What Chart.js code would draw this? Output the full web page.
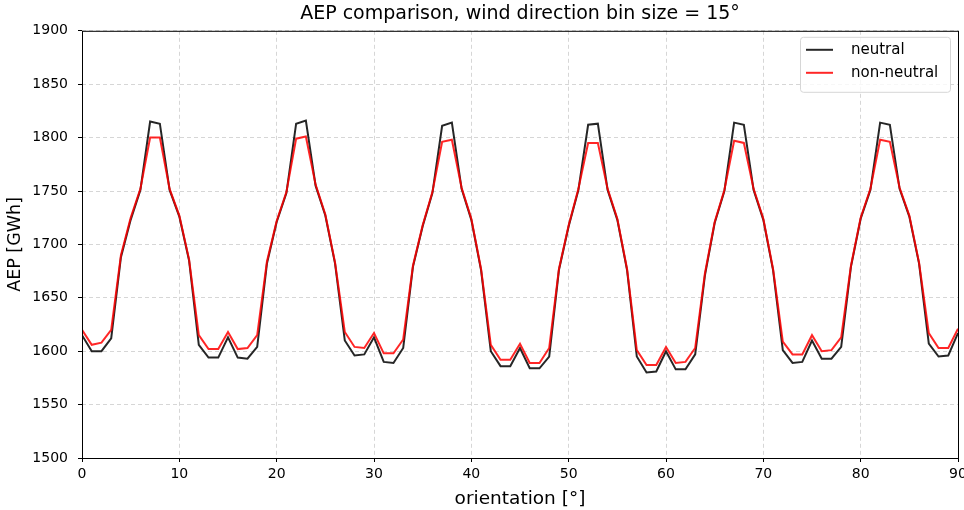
<!DOCTYPE html>
<html>
<head>
<meta charset="utf-8">
<script src="https://cdn.jsdelivr.net/npm/chart.js@4.4.1/dist/chart.umd.min.js"></script>
<style>
  html, body { margin: 0; padding: 0; background: #fff; overflow: hidden; }
  #wrap { width: 964px; height: 510px; position: relative; }
</style>
</head>
<body>
<div id="wrap"><canvas id="aepChart"></canvas></div>
<script>
// orientation of the layout [deg]
const orientation = [0, 1, 2, 3, 4, 5, 6, 7, 8, 9, 10, 11, 12, 13, 14, 15, 16, 17, 18, 19,
  20, 21, 22, 23, 24, 25, 26, 27, 28, 29, 30, 31, 32, 33, 34, 35, 36, 37, 38, 39,
  40, 41, 42, 43, 44, 45, 46, 47, 48, 49, 50, 51, 52, 53, 54, 55, 56, 57, 58, 59,
  60, 61, 62, 63, 64, 65, 66, 67, 68, 69, 70, 71, 72, 73, 74, 75, 76, 77, 78, 79,
  80, 81, 82, 83, 84, 85, 86, 87, 88, 89, 90];

// AEP [GWh], neutral atmosphere
const aepNeutral = [1615, 1600, 1600, 1612, 1688, 1723, 1751, 1815, 1813, 1751,
  1726, 1685, 1606, 1594, 1594, 1613, 1594, 1593, 1604, 1682,
  1721, 1748, 1813, 1816, 1755, 1727, 1682, 1610, 1596, 1597,
  1613, 1590, 1589, 1603, 1679, 1717, 1748, 1811, 1814, 1752,
  1723, 1676, 1600, 1586, 1586, 1603, 1584, 1584, 1595, 1676,
  1717, 1751, 1812, 1813, 1751, 1723, 1676, 1595, 1580, 1581,
  1600, 1583, 1583, 1597, 1671, 1720, 1750, 1814, 1812, 1751,
  1723, 1676, 1601, 1589, 1590, 1610, 1593, 1593, 1604, 1679,
  1724, 1751, 1814, 1812, 1752, 1726, 1682, 1607, 1595, 1596, 1617];

// AEP [GWh], non-neutral atmosphere
const aepNonNeutral = [1620, 1606, 1608, 1620, 1690, 1725, 1752, 1800, 1800, 1752,
  1727, 1686, 1615, 1602, 1602, 1618, 1602, 1603, 1615, 1684,
  1722, 1749, 1799, 1801, 1756, 1728, 1683, 1618, 1604, 1603,
  1617, 1598, 1598, 1611, 1680, 1718, 1749, 1796, 1798, 1753,
  1724, 1677, 1606, 1592, 1592, 1607, 1589, 1589, 1603, 1677,
  1718, 1752, 1795, 1795, 1752, 1724, 1677, 1601, 1587, 1587,
  1604, 1589, 1590, 1603, 1673, 1721, 1751, 1797, 1795, 1752,
  1724, 1677, 1609, 1597, 1597, 1615, 1600, 1601, 1613, 1680,
  1725, 1752, 1798, 1796, 1753, 1727, 1683, 1617, 1603, 1603, 1621];

const xTicks = [0, 10, 20, 30, 40, 50, 60, 70, 80, 90];
const yTicks = [1500, 1550, 1600, 1650, 1700, 1750, 1800, 1850, 1900];
const seriesNames = ['neutral', 'non-neutral'];

const FONT = "'DejaVu Sans', sans-serif";
const BLACK = 'rgba(0,0,0,0.85)';
const RED = 'rgba(255,0,0,0.85)';

function toPoints(ys) {
    return orientation.map((x, i) => ({ x: x, y: ys[i] }));
}

// frame round the plot area, like matplotlib axes
const frameBox = {
    id: 'frameBox',
    afterDatasetsDraw(chart) {
        const { ctx, chartArea: a } = chart;
        ctx.save();
        ctx.strokeStyle = '#000';
        ctx.lineWidth = 1;
        ctx.strokeRect(a.left + 0.5, a.top + 0.5, a.right - a.left, a.bottom - a.top);
        ctx.restore();
    }
};

// legend box in the upper right corner
const innerLegend = {
    id: 'innerLegend',
    afterDraw(chart) {
        const { ctx, chartArea: a } = chart;
        const w = 150, h = 55;
        const x = a.right - w - 8, y = a.top + 6;
        ctx.save();
        ctx.fillStyle = 'rgba(255,255,255,0.8)';
        ctx.strokeStyle = '#d6d6d6';
        ctx.lineWidth = 1;
        ctx.beginPath();
        ctx.roundRect(x + 0.5, y + 0.5, w, h, 3);
        ctx.fill();
        ctx.stroke();
        const colors = [BLACK, RED];
        ctx.font = '15px ' + FONT;
        ctx.textBaseline = 'middle';
        ctx.fillStyle = '#000';
        seriesNames.forEach((name, i) => {
            const ly = y + 13 + i * 23;
            ctx.strokeStyle = colors[i];
            ctx.lineWidth = 2;
            ctx.beginPath();
            ctx.moveTo(x + 6, ly);
            ctx.lineTo(x + 33, ly);
            ctx.stroke();
            ctx.fillText(name, x + 51, ly);
        });
        ctx.restore();
    }
};

const gridStyle = {
    color: '#d6d6d6',
    tickBorderDash: [],
    tickColor: '#000',
    tickLength: 4,
    drawTicks: true
};

new Chart(document.getElementById('aepChart'), {
    type: 'line',
    data: {
        datasets: [{
            label: seriesNames[0],
            data: toPoints(aepNeutral),
            borderColor: BLACK,
            borderWidth: 2,
            pointRadius: 0,
            tension: 0,
            order: 1
        }, {
            label: seriesNames[1],
            data: toPoints(aepNonNeutral),
            borderColor: RED,
            borderWidth: 2,
            pointRadius: 0,
            tension: 0,
            order: 0
        }]
    },
    options: {
        responsive: true,
        maintainAspectRatio: false,
        animation: false,
        layout: { padding: { left: 0, right: 6, top: 0, bottom: 0 } },
        scales: {
            x: {
                type: 'linear',
                min: 0,
                max: 90,
                afterBuildTicks: (scale) => { scale.ticks = xTicks.map(v => ({ value: v })); },
                afterFit: (scale) => {
                    scale.height = 52;
                    scale.paddingLeft = 0;
                    scale.paddingRight = 0;
                },
                ticks: {
                    font: { family: FONT, size: 14 },
                    color: '#000',
                    padding: 4,
                    callback: (v) => String(v)
                },
                grid: gridStyle,
                border: { display: false, dash: [4, 3] },
                title: {
                    display: true,
                    text: 'orientation [°]',
                    font: { family: FONT, size: 18.5 },
                    color: '#000',
                    padding: { top: 2, bottom: 0 }
                }
            },
            y: {
                min: 1500,
                max: 1900,
                afterBuildTicks: (scale) => { scale.ticks = yTicks.map(v => ({ value: v })); },
                afterFit: (scale) => {
                    scale.width = 82;
                    scale.paddingTop = 0;
                    scale.paddingBottom = 0;
                },
                ticks: {
                    font: { family: FONT, size: 14 },
                    color: '#000',
                    padding: 10,
                    callback: (v) => String(v)
                },
                grid: gridStyle,
                border: { display: false, dash: [4, 3] },
                title: {
                    display: true,
                    text: 'AEP [GWh]',
                    font: { family: FONT, size: 17.5 },
                    color: '#000',
                    padding: { top: 5, bottom: 0 }
                }
            }
        },
        plugins: {
            legend: { display: false },
            tooltip: { enabled: false },
            title: {
                display: true,
                fullSize: false,
                text: 'AEP comparison, wind direction bin size = 15°',
                font: { family: FONT, size: 19, weight: 'normal', lineHeight: 1.2 },
                color: '#000',
                padding: { top: 3, bottom: 5 }
            }
        }
    },
    plugins: [frameBox, innerLegend]
});
</script>
</body>
</html>
